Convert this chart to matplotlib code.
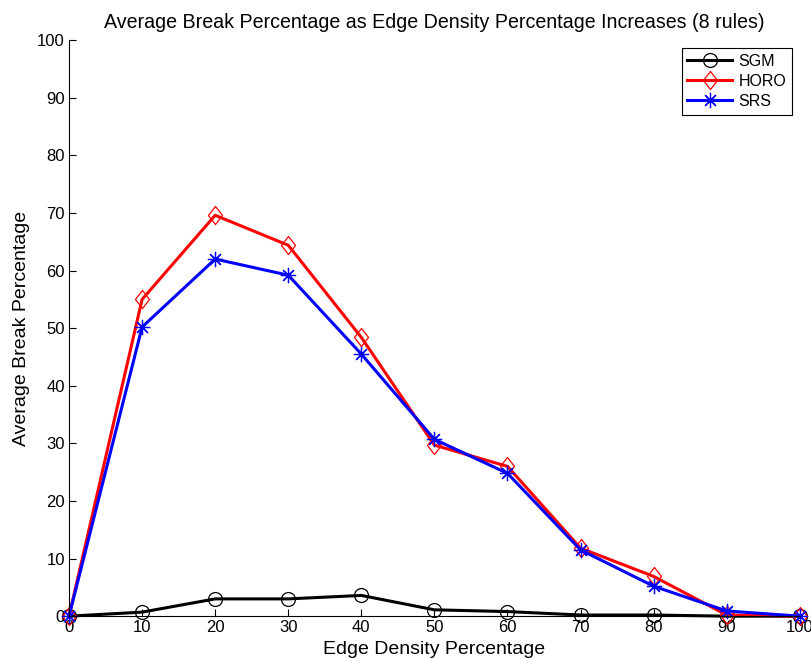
"""
plot.py  —  Average break percentage vs edge density percentage (8 rules).

Output: out.png
"""

import matplotlib as mpl
mpl.use('Agg')
import matplotlib.pyplot as plt

# --- Data ---
EDGE_DENSITY = [0, 10, 20, 30, 40, 50, 60, 70, 80, 90, 100]
SGM  = [0.0, 0.7, 3.0, 3.0, 3.6, 1.1, 0.8, 0.2, 0.2, 0.0, 0.0]
HORO = [0.0, 55.0, 69.6, 64.4, 48.4, 29.7, 26.0, 11.8, 6.9, 0.2, 0.0]
SRS  = [0.0, 50.2, 62.0, 59.2, 45.5, 30.7, 24.8, 11.5, 5.2, 0.9, 0.0]

X_TICKS = list(range(0, 101, 10))
Y_TICKS = list(range(0, 101, 10))

mpl.rcParams['font.family'] = ['Liberation Sans', 'DejaVu Sans']

# MATLAB-style diamond (a bit narrower than tall)
DIAMOND = mpl.path.Path([(0, 1), (0.78, 0), (0, -1), (-0.78, 0), (0, 1)],
                        closed=True)

fig = plt.figure(figsize=(8.12, 6.59), dpi=100)
ax = fig.add_axes([0.085, 0.065, 0.900, 0.874])

ax.plot(EDGE_DENSITY, SGM, color='black', lw=2.2, marker='o', ms=10,
        mfc='none', mec='black', mew=0.9, label='SGM')
ax.plot(EDGE_DENSITY, HORO, color='#ff0000', lw=2.2, marker=DIAMOND, ms=13,
        mfc='none', mec='#ff0000', mew=0.9, label='HORO')
ax.plot(EDGE_DENSITY, SRS, color='#0000ff', lw=2.2, marker=(8, 2, 0), ms=11,
        mec='#0000ff', mew=0.9, label='SRS')

ax.set_xlim(0, 100)
ax.set_ylim(0, 100)
ax.set_xticks(X_TICKS)
ax.set_yticks(Y_TICKS)
ax.tick_params(direction='in', length=5, width=0.8, labelsize=12, pad=3,
               top=False, right=False)
for side in ('top', 'right'):
    ax.spines[side].set_visible(False)
for side in ('left', 'bottom'):
    ax.spines[side].set_linewidth(0.8)
for ln in ax.lines:
    ln.set_clip_on(False)

ax.set_xlabel('Edge Density Percentage', fontsize=14, labelpad=4)
ax.set_ylabel('Average Break Percentage', fontsize=14, labelpad=5)
ax.set_title('Average Break Percentage as Edge Density Percentage Increases (8 rules)',
             fontsize=14.1, pad=9)

leg = ax.legend(loc='upper right', bbox_to_anchor=(1.0, 1.0), fontsize=11.5,
                fancybox=False, framealpha=1, edgecolor='black',
                handlelength=2.8, borderpad=0.35, labelspacing=0.32,
                handletextpad=0.4)
leg.get_frame().set_linewidth(0.8)

fig.savefig('out.png', dpi=100)
